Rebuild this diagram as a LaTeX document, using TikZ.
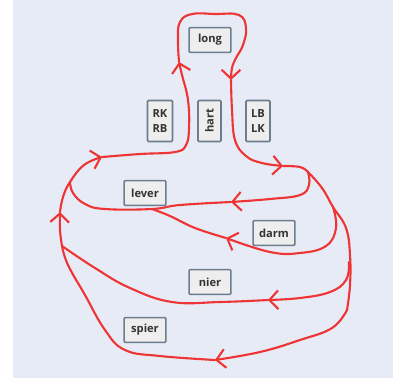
\documentclass[tikz,border=0pt]{standalone}
\usepackage{fontspec}
\setmainfont{Open Sans}
\usetikzlibrary{arrows.meta}
\definecolor{bgblue}{RGB}{231,235,246}
\definecolor{bloodred}{RGB}{238,52,52}
\definecolor{boxgray}{RGB}{238,238,238}
\definecolor{boxline}{RGB}{108,126,142}

\begin{document}
\begin{tikzpicture}[x=0.03cm, y=-0.03cm,
    organ/.style={draw=boxline, fill=boxgray, line width=1.3pt, rounded corners=0.8pt,
      minimum width=1.25cm, minimum height=0.74cm, inner sep=0pt,
      font=\bfseries\fontsize{9.5}{13}\selectfont, text=black!80},
    vessel/.style={draw=bloodred, line width=1.8pt, line cap=round, line join=round},
    flow/.style={vessel, -{Straight Barb[length=7.5pt, width=16pt]}}]
      \useasboundingbox (0,0) rectangle (393,378);
      \fill[bgblue] (13,0) rectangle (393,378);
      % organen
      \node[organ] (long) at (210,40) {long};
      \node[organ, minimum width=0.75cm, minimum height=1.23cm, align=center] (rk) at (160,121) {RK\\RB};
      \node[organ, rotate=90, minimum width=1.23cm, minimum height=0.69cm] (hart) at (209.5,121) {hart};
      \node[organ, minimum width=0.72cm, minimum height=1.23cm, align=center] (lb) at (258,121) {LB\\LK};
      \node[organ] (lever) at (145,193) {lever};
      \node[organ] (darm) at (274,233) {darm};
      \node[organ] (nier) at (210,282) {nier};
      \node[organ] (spier) at (145,330) {spier};
      % knooppunten
      \coordinate (jl) at (70,182);
      \coordinate (jr) at (308,172);
      \coordinate (jd) at (333,207);
      \coordinate (jb) at (62,246);
      \coordinate (jv) at (152,209);
      % kleine bloedsomloop
      \draw[flow] plot[smooth, tension=0.7] coordinates {(jb) (60,230) (60,212)};
      \draw[flow] plot[smooth, tension=0.7] coordinates {(60,212) (63,197) (jl) (84,165) (102,157)};
      \draw[flow] plot[smooth, tension=0.7] coordinates {(102,157) (140,154) (175,152) (186,145) (189,128) (188,100) (182,75) (179,62)};
      \draw[flow] plot[smooth, tension=0.7] coordinates {(179,62) (178,40) (180,22) (192,14) (215,14) (239,15) (246,28) (243,45) (236,58) (232,68) (231,80)};
      \draw[flow] plot[smooth, tension=0.7] coordinates {(231,80) (232,110) (235,140) (246,156) (262,163) (283,166)};
      \draw[vessel] plot[smooth, tension=0.7] coordinates {(283,166) (300,167) (jr)};
      % lever
      \draw[flow] plot[smooth, tension=0.7] coordinates {(jr) (309,185) (300,195) (270,199) (231,202)};
      \draw[vessel] plot[smooth, tension=0.7] coordinates {(231,202) (180,205) (jv) (105,209) (85,204) (73,193) (jl)};
      % darm
      \draw[flow] plot[smooth, tension=0.7] coordinates {(jd) (336,228) (326,246) (300,253) (270,252) (226,238)};
      \draw[vessel] plot[smooth, tension=0.7] coordinates {(226,238) (195,228) (170,216) (jv)};
      % hoofdstam rechts
      \draw[vessel] plot[smooth, tension=0.7] coordinates {(jr) (322,188) (jd) (346,228) (350,255) (350,285) (347,310)};
      % nier
      \draw[flow] plot[smooth, tension=0.7] coordinates {(349,262) (346,280) (330,292) (300,298) (268,300)};
      \draw[vessel] plot[smooth, tension=0.7] coordinates {(268,300) (220,302) (172,302) (130,288) (95,268) (jb)};
      % spier
      \draw[flow] plot[smooth, tension=0.7] coordinates {(347,310) (332,328) (300,340) (260,352) (215,360)};
      \draw[vessel] plot[smooth, tension=0.7] coordinates {(215,360) (160,356) (125,350) (105,330) (85,295) (68,265) (jb)};
\end{tikzpicture}
\end{document}
